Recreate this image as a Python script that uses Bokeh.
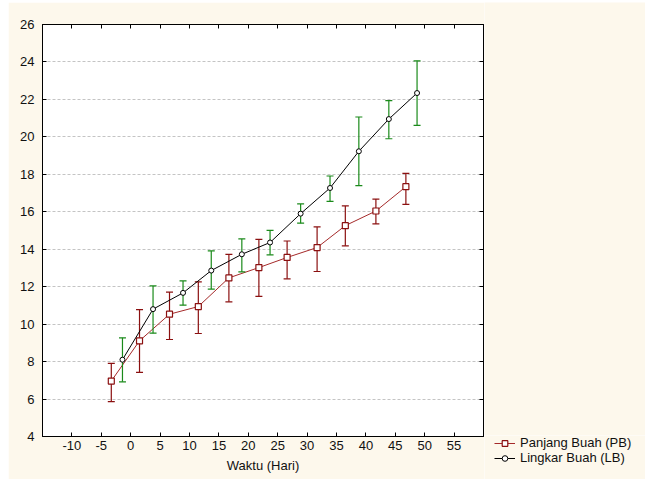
from bokeh.plotting import figure
from bokeh.models import (LinearAxis, FixedTicker, Legend, LegendItem, Range1d, Spacer)
from bokeh.layouts import row, column
from bokeh.embed import file_html
from bokeh.resources import INLINE

# ---- data ----
pb_x = [-3.3, 1.5, 6.6, 11.5, 16.7, 21.8, 26.6, 31.7, 36.5, 41.7, 46.8]
pb_y = [6.96, 9.11, 10.53, 10.94, 12.47, 13.02, 13.56, 14.09, 15.26, 16.04, 17.34]
pb_hi = [7.90, 10.78, 11.71, 12.26, 13.72, 14.53, 14.44, 15.19, 16.31, 16.68, 18.05]
pb_lo = [5.86, 7.42, 9.18, 9.50, 11.19, 11.48, 12.42, 12.81, 14.18, 15.35, 16.40]

lb_x = [-1.4, 3.8, 8.9, 13.7, 18.9, 23.7, 28.9, 33.9, 38.8, 43.9, 48.7]
lb_y = [8.10, 10.80, 11.67, 12.86, 13.73, 14.36, 15.90, 17.27, 19.23, 20.95, 22.34]
lb_hi = [9.27, 12.04, 12.31, 13.91, 14.55, 15.01, 16.42, 17.91, 21.06, 21.93, 24.06]
lb_lo = [6.92, 9.52, 11.01, 11.87, 12.79, 13.70, 15.39, 16.56, 17.40, 19.90, 20.61]

x_ticks = [-10, -5, 0, 5, 10, 15, 20, 25, 30, 35, 40, 45, 50, 55]
y_ticks = [4, 6, 8, 10, 12, 14, 16, 18, 20, 22, 24, 26]
x_label = "Waktu (Hari)"
pb_name = "Panjang Buah (PB)"
lb_name = "Lingkar Buah (LB)"

FONT = "Liberation Sans"
CREAM = "#fdf8ec"
RED_LINE = "#a52a2a"
RED_BAR = "#8b1010"
GREEN_BAR = "#1a8a1a"

p = figure(width=476, height=477, output_backend="svg", toolbar_location=None,
           x_range=Range1d(-15, 60), y_range=Range1d(4, 26),
           min_border_left=34, min_border_right=1, min_border_top=22,
           min_border_bottom=43, x_axis_location=None, y_axis_location=None)
p.background_fill_color = "white"
p.border_fill_color = CREAM
p.outline_line_color = "black"
p.outline_line_width = 1

xt = FixedTicker(ticks=x_ticks)
yt = FixedTicker(ticks=y_ticks)

def style(ax, standoff=4):
    ax.major_tick_in = 4
    ax.major_tick_out = 0
    ax.minor_tick_line_color = None
    ax.axis_line_color = "black"
    ax.major_tick_line_color = "black"
    ax.major_label_text_font = FONT
    ax.major_label_text_font_size = "13px"
    ax.major_label_text_color = "#111111"
    ax.major_label_standoff = standoff

bx = LinearAxis(ticker=xt, axis_label=x_label,
                major_label_overrides={t: str(t) for t in x_ticks})
style(bx, standoff=4)
bx.axis_label_text_font = FONT
bx.axis_label_text_font_size = "13px"
bx.axis_label_text_font_style = "normal"
bx.axis_label_text_color = "#111111"
bx.axis_label_standoff = 5
p.add_layout(bx, "below")

ly = LinearAxis(ticker=yt)
style(ly, standoff=8)
p.add_layout(ly, "left")

tx = LinearAxis(ticker=xt, major_label_overrides={t: "" for t in x_ticks})
style(tx, standoff=0)
p.add_layout(tx, "above")

ry = LinearAxis(ticker=yt, major_label_overrides={t: "" for t in y_ticks})
style(ry, standoff=0)
p.add_layout(ry, "right")

p.xgrid.visible = False
p.ygrid.ticker = yt
p.ygrid.grid_line_color = "#c4c4c4"
p.ygrid.grid_line_dash = "3 2"
p.ygrid.grid_line_width = 1

# Panjang Buah (red)
p.segment(pb_x, pb_lo, pb_x, pb_hi, line_color=RED_BAR, line_width=1.2)
p.scatter(pb_x, pb_hi, marker="dash", size=7, line_color=RED_BAR, line_width=1.2)
p.scatter(pb_x, pb_lo, marker="dash", size=7, line_color=RED_BAR, line_width=1.2)
p.line(pb_x, pb_y, line_color=RED_LINE, line_width=1)
p.scatter(pb_x, pb_y, marker="square", size=6, line_color=RED_BAR,
          fill_color="white", line_width=1.2)

# Lingkar Buah (black)
p.segment(lb_x, lb_lo, lb_x, lb_hi, line_color=GREEN_BAR, line_width=1.2)
p.scatter(lb_x, lb_hi, marker="dash", size=7, line_color=GREEN_BAR, line_width=1.2)
p.scatter(lb_x, lb_lo, marker="dash", size=7, line_color=GREEN_BAR, line_width=1.2)
p.line(lb_x, lb_y, line_color="black", line_width=1)
p.scatter(lb_x, lb_y, marker="circle", size=5, line_color="black",
          fill_color="white", line_width=1)

# ---- cream filler above the legend ----
filler = figure(width=161, height=433, output_backend="svg", toolbar_location=None,
                x_range=Range1d(0, 1), y_range=Range1d(0, 1),
                min_border=0, x_axis_location=None, y_axis_location=None)
filler.background_fill_color = CREAM
filler.border_fill_color = CREAM
filler.outline_line_color = None
filler.grid.visible = False

# ---- legend panel (small separate figure below-right of the plot) ----
lg = figure(width=161, height=44, output_backend="svg", toolbar_location=None,
            x_range=Range1d(0, 1), y_range=Range1d(0, 1),
            min_border=0, x_axis_location=None, y_axis_location=None)
lg.background_fill_color = CREAM
lg.border_fill_color = CREAM
lg.outline_line_color = None
lg.grid.visible = False
# legend-only renderers: their points lie outside the visible range
pb_line = lg.line(x=[pb_x[0], pb_x[1]], y=[pb_y[0], pb_y[1]], line_color=RED_LINE, line_width=1)
pb_mk = lg.scatter(x=[pb_x[0]], y=[pb_y[0]], marker="square", size=6, line_color=RED_BAR,
                   fill_color="white", line_width=1.2)
lb_line = lg.line(x=[lb_x[0], lb_x[1]], y=[lb_y[0], lb_y[1]], line_color="black", line_width=1)
lb_mk = lg.scatter(x=[lb_x[0]], y=[lb_y[0]], marker="circle", size=5, line_color="black",
                   fill_color="white", line_width=1)

legend = Legend(items=[LegendItem(label=pb_name, renderers=[pb_line, pb_mk]),
                       LegendItem(label=lb_name, renderers=[lb_line, lb_mk])],
                location=(10, 14))
legend.label_text_font = FONT
legend.label_text_font_size = "13px"
legend.label_text_color = "#111111"
legend.glyph_width = 21
legend.glyph_height = 14
legend.label_height = 14
legend.spacing = 0
legend.padding = 0
legend.margin = 0
legend.label_standoff = 5
legend.border_line_color = None
legend.background_fill_alpha = 0
lg.add_layout(legend, "center")

right_col = column(filler, lg)
layout = column(Spacer(height=2, width=645),
                row(Spacer(width=8, height=477), p, right_col))
open("out.html", "w").write(file_html(layout, INLINE))
